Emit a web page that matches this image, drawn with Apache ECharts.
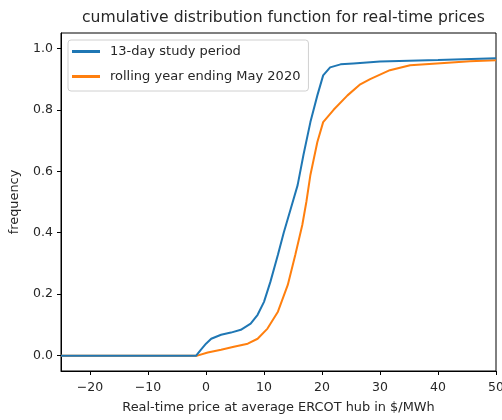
<!DOCTYPE html>
<html><head><meta charset="utf-8">
<script src="https://cdn.jsdelivr.net/npm/echarts@6/dist/echarts.min.js"></script>
<style>html,body{margin:0;padding:0;background:#fff}#c{width:502px;height:420px}</style>
</head><body><div id="c"></div>
<script>
const titleText = 'cumulative distribution function for real-time prices';
const xName = 'Real-time price at average ERCOT hub in $/MWh';
const yName = 'frequency';
const seriesNames = ['13-day study period', 'rolling year ending May 2020'];
const xTicks = [-20, -10, 0, 10, 20, 30, 40, 50];
const yTicks = [0, 0.2, 0.4, 0.6, 0.8, 1.0];

const blueX = [-25, -1.7, -0.9, 0, 0.9, 2.6, 4.3, 6.0, 7.7, 8.9, 10.0, 11.1, 12.4, 13.4, 14.6, 15.8, 16.8, 18.0, 19.2, 20.2, 21.4, 23.2, 25.4, 28.3, 30, 40, 50];
const blueY = [0, 0, 0.019, 0.039, 0.055, 0.068, 0.075, 0.084, 0.104, 0.133, 0.175, 0.24, 0.328, 0.40, 0.477, 0.555, 0.653, 0.76, 0.847, 0.912, 0.938, 0.948, 0.951, 0.955, 0.957, 0.962, 0.968];

const orangeX = [-25, -1.5, 0.3, 2.6, 4.8, 7.2, 8.9, 10.6, 12.4, 14.1, 15.4, 16.6, 17.3, 18.0, 19.2, 20.2, 22.0, 24.4, 26.6, 28.3, 31.7, 35.2, 39.8, 45.5, 50];
const orangeY = [0, 0, 0.01, 0.019, 0.029, 0.039, 0.055, 0.088, 0.143, 0.23, 0.328, 0.425, 0.5, 0.588, 0.695, 0.76, 0.80, 0.847, 0.883, 0.9, 0.929, 0.945, 0.951, 0.958, 0.961];

const zip = (a, b) => a.map((v, i) => [v, b[i]]);
const font = 'DejaVu Sans';
const txt = '#262626';

const chart = echarts.init(document.getElementById('c'), null, {renderer: 'canvas'});
chart.setOption({
  animation: false,
  backgroundColor: '#fff',
  title: {text: titleText, left: 77, top: 5,
    textStyle: {fontFamily: font, fontSize: 15.6, fontWeight: 'normal', color: txt}},
  grid: {left: 61, right: 6, top: 33, bottom: 49, show: true, borderColor: '#000', borderWidth: 1,
    containLabel: false, outerBoundsMode: 'none'},
  legend: {orient: 'vertical', left: 68, top: 40, padding: [5, 8, 8, 4], itemGap: 12,
    itemWidth: 28, itemHeight: 3, icon: 'rect',
    borderColor: '#d0d0d0', borderWidth: 1, borderRadius: 3,
    textStyle: {fontFamily: font, fontSize: 13, color: txt, padding: [0, 0, 0, 5]},
    data: seriesNames},
  xAxis: {type: 'value', min: -25, max: 50, interval: 5,
    name: xName, nameLocation: 'middle', nameGap: 30,
    nameTextStyle: {fontFamily: font, fontSize: 12.9, color: txt},
    splitLine: {show: false},
    axisLine: {onZero: false, lineStyle: {color: '#000'}},
    axisTick: {inside: false, length: 4, lineStyle: {color: '#000'}, customValues: xTicks},
    axisLabel: {fontFamily: font, fontSize: 12.5, color: txt, margin: 10, customValues: xTicks,
      formatter: v => (v < 0 ? '\u2212' + Math.abs(v) : String(v))}},
  yAxis: {type: 'value', min: -0.05, max: 1.05,
    name: yName, nameLocation: 'middle', nameGap: 40, nameRotate: 90,
    nameTextStyle: {fontFamily: font, fontSize: 12.9, color: txt},
    splitLine: {show: false},
    axisLine: {show: true, onZero: false, lineStyle: {color: '#000'}},
    axisTick: {show: true, inside: false, length: 4, lineStyle: {color: '#000'}, customValues: yTicks},
    axisLabel: {fontFamily: font, fontSize: 12.5, color: txt, margin: 8, customValues: yTicks,
      formatter: v => v.toFixed(1)}},
  series: [
    {name: seriesNames[0], type: 'line', data: zip(blueX, blueY), showSymbol: false, symbol: 'none',
      lineStyle: {width: 2, color: '#1f77b4'}, itemStyle: {color: '#1f77b4'}, z: 3},
    {name: seriesNames[1], type: 'line', data: zip(orangeX, orangeY), showSymbol: false, symbol: 'none',
      lineStyle: {width: 2, color: '#ff7f0e'}, itemStyle: {color: '#ff7f0e'}, z: 2}
  ]
});
</script></body></html>
